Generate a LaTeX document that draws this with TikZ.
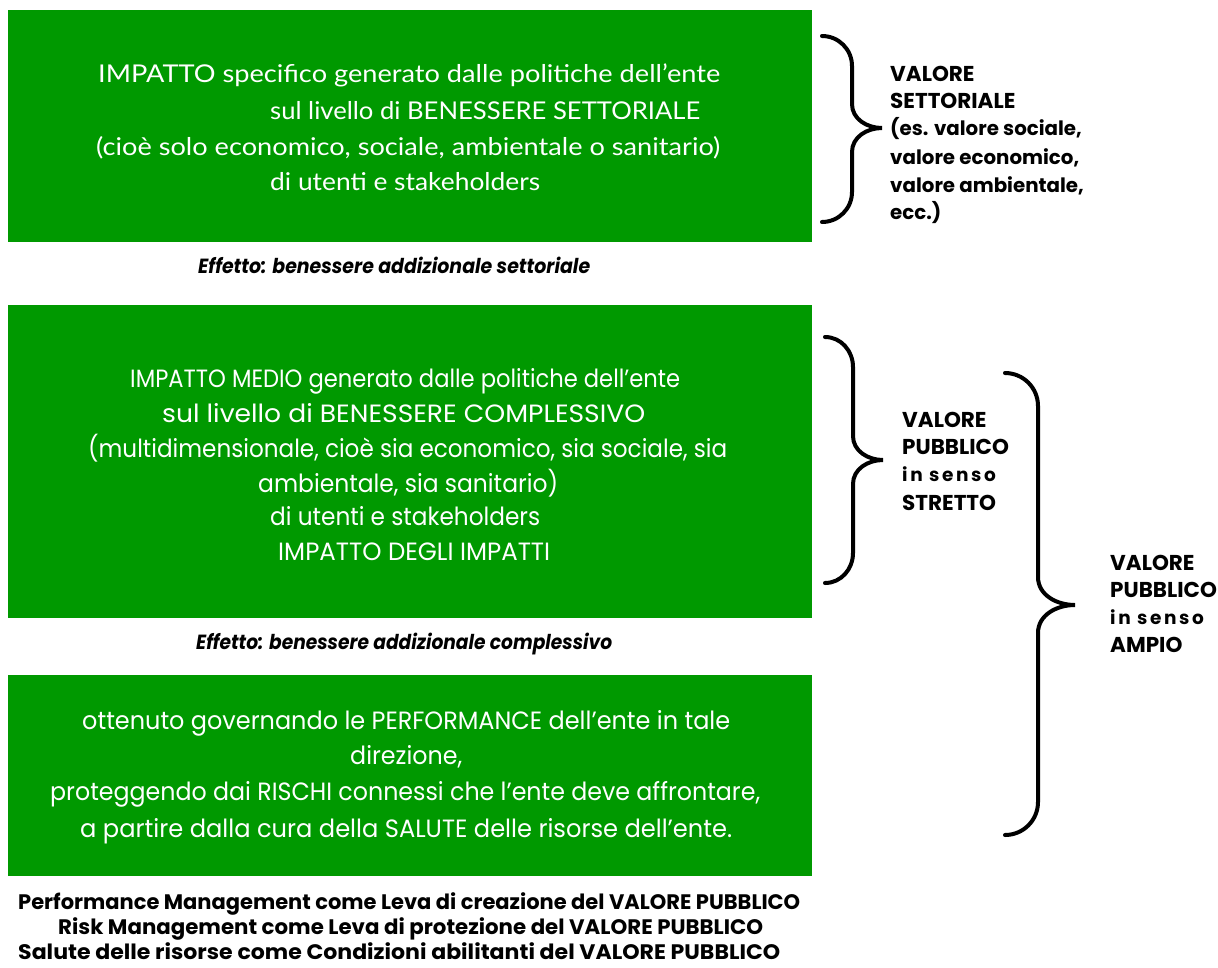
\documentclass[tikz,border=0pt]{standalone}
\usepackage{fontspec}
\usepackage{graphicx}
\setmainfont{Poppins}
\newfontfamily\latof{Lato}
\newfontfamily\spacedbold[LetterSpace=14]{Poppins}
\definecolor{pgreen}{RGB}{0,153,0}
\newcommand\wfit[2]{\resizebox{#1pt}{\height}{#2}}
\begin{document}
\begin{tikzpicture}[x=1pt,y=-1pt,
  gbox/.style={fill=pgreen, draw=none, inner sep=0pt, minimum width=804pt},
  wt/.style={inner sep=0pt, anchor=base west, text=white},
  wtA/.style={wt, font=\latof\fontsize{24.5}{28}\selectfont},
  wtB/.style={wt, font=\fontsize{25}{28}\selectfont},
  eff/.style={inner sep=0pt, anchor=base west, font=\fontsize{20.5}{24}\selectfont\bfseries\itshape},
  bot/.style={inner sep=0pt, anchor=base west, font=\fontsize{21}{24}\selectfont\bfseries},
  lab/.style={inner sep=0pt, anchor=base west, font=\fontsize{21.5}{24}\selectfont\bfseries},
  labl/.style={inner sep=0pt, anchor=base west, font=\fontsize{19.8}{22}\selectfont\bfseries},
  labs/.style={inner sep=0pt, anchor=base west, font=\spacedbold\fontsize{18.5}{22}\selectfont\bfseries},
  brace/.style={line width=4pt, line cap=round, black}]
\useasboundingbox (0,0) rectangle (1218,967);
\fill[white] (0,0) rectangle (1218,967);

% green boxes
\node[gbox, minimum height=232pt] (box1) at (410,126) {};
\node[gbox, minimum height=313pt] (box2) at (410,461.5) {};
\node[gbox, minimum height=201pt] (box3) at (410,775.5) {};

% box 1 text
\node[wtA] (a1) at (98,82)  {\wfit{622}{IMPATTO specifico generato dalle politiche dell’ente}};
\node[wtA] (a2) at (270,119) {\wfit{430}{sul livello di BENESSERE SETTORIALE}};
\node[wtA] (a3) at (96,155) {\wfit{624}{(cioè solo economico, sociale, ambientale o sanitario)}};
\node[wtA] (a4) at (270,190) {\wfit{270}{di utenti e stakeholders}};

\node[eff] (e1) at (198,273) {\wfit{392}{Effetto: benessere addizionale settoriale}};

% box 2 text
\node[wtB] (b1) at (130,387) {\wfit{550}{IMPATTO MEDIO generato dalle politiche dell’ente}};
\node[wtB] (b2) at (162,422) {\wfit{483}{sul livello di BENESSERE COMPLESSIVO}};
\node[wtB] (b3) at (88,457)  {\wfit{639}{(multidimensionale, cioè sia economico, sia sociale, sia}};
\node[wtB] (b4) at (258,492) {\wfit{300}{ambientale, sia sanitario)}};
\node[wtB] (b5) at (270,525) {\wfit{270}{di utenti e stakeholders}};
\node[wtB] (b6) at (278,560) {\wfit{272}{IMPATTO DEGLI IMPATTI}};

\node[eff] (e2) at (196,649) {\wfit{416}{Effetto: benessere addizionale complessivo}};

% box 3 text
\node[wtB] (c1) at (82,729)  {\wfit{648}{ottenuto governando le PERFORMANCE dell’ente in tale}};
\node[wtB] (c2) at (350,764) {\wfit{112}{direzione,}};
\node[wtB] (c3) at (50,800)  {\wfit{710}{proteggendo dai RISCHI connessi che l’ente deve affrontare,}};
\node[wtB] (c4) at (80,837)  {\wfit{652}{a partire dalla cura della SALUTE delle risorse dell’ente.}};

% bottom lines
\node[bot] (d1) at (18,909) {\wfit{782}{Performance Management come Leva di creazione del VALORE PUBBLICO}};
\node[bot] (d2) at (58,934) {\wfit{705}{Risk Management come Leva di protezione del VALORE PUBBLICO}};
\node[bot] (d3) at (18,959) {\wfit{762}{Salute delle risorse come Condizioni abilitanti del VALORE PUBBLICO}};

% braces
\draw[brace] (822,36) to[out=0,in=90] (852,66) -- (852,104)
  to[out=-90,in=180] (882,128) to[out=180,in=90] (852,152) -- (852,192)
  to[out=-90,in=0] (822,222);
\draw[brace] (825,337) to[out=0,in=90] (853,367) -- (853,436)
  to[out=-90,in=180] (883,460) to[out=180,in=90] (853,484) -- (853,553)
  to[out=-90,in=0] (825,583);
\draw[brace] (1005,373) to[out=0,in=90] (1038,406) -- (1038,577)
  to[out=-90,in=180] (1075,605) to[out=180,in=90] (1038,633) -- (1038,802)
  to[out=-90,in=0] (1005,835);

% labels
\node[lab]  (s1) at (890,81)  {VALORE};
\node[lab]  (s2) at (890,108) {SETTORIALE};
\node[labl] (s3) at (890,135) {(es. valore sociale,};
\node[labl] (s4) at (890,164) {valore economico,};
\node[labl] (s5) at (890,192) {valore ambientale,};
\node[labl] (s6) at (890,219) {ecc.)};

\node[lab]  (p1) at (902,427) {VALORE};
\node[lab]  (p2) at (902,454) {PUBBLICO};
\node[labs] (p3) at (902,481) {in senso};
\node[lab]  (p4) at (902,510) {STRETTO};

\node[lab]  (q1) at (1110,570) {VALORE};
\node[lab]  (q2) at (1110,597) {PUBBLICO};
\node[labs] (q3) at (1110,624) {in senso};
\node[lab]  (q4) at (1110,652) {AMPIO};
\end{tikzpicture}
\end{document}
